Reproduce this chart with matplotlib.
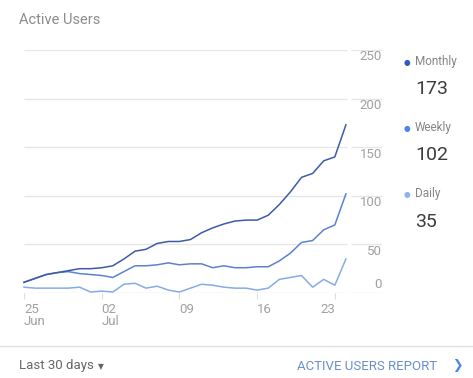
import matplotlib.pyplot as plt

plt.rcParams['font.family'] = ['Roboto', 'DejaVu Sans']

# 30 days, 25 Jun .. 24 Jul
days = list(range(30))
monthly = [11, 15, 19, 21, 23, 25, 25, 26, 28, 35, 43, 45, 51, 53, 53, 55, 62, 67,
           71, 74, 75, 75, 80, 91, 104, 119, 123, 136, 140, 173]
weekly = [11, 15, 19, 21, 22, 20, 19, 18, 16, 22, 28, 28, 29, 31, 29, 30, 30, 26,
          28, 26, 26, 27, 27, 33, 41, 52, 54, 65, 70, 102]
daily = [6, 5, 5, 5, 5, 6, 1, 2, 1, 9, 10, 5, 7, 3, 1, 5, 9, 8,
         6, 5, 5, 3, 5, 14, 16, 18, 6, 14, 8, 35]

tick_days = [0, 7, 14, 21, 28]
tick_labels = ['25\nJun', '02\nJul', '09', '16', '23']
y_ticks = [0, 50, 100, 150, 200, 250]

series_names = ['Monthly', 'Weekly', 'Daily']
series_totals = ['173', '102', '35']
line_colors = ['#3d5ba6', '#5b82d1', '#86abe6']
dot_colors = ['#2f5bbf', '#4a86e8', '#8ab4f0']

fig = plt.figure(figsize=(4.73, 3.78), dpi=100)
W, H = 473, 378
ax = fig.add_axes([24 / W, (H - 293) / H, (382 - 24) / W, 243 / H])
ax.set_xlim(0, 32.25)
ax.set_ylim(0, 250)

# grid lines, broken where the plot meets the value labels
for v in y_ticks:
    ax.hlines(v, 0, 29.1, color='#e6e6e6', lw=1, zorder=0)
    ax.hlines(v, 29.5, 32.25, color='#e6e6e6', lw=1, zorder=0)

for vals, c in zip([daily, weekly, monthly], line_colors[::-1]):
    ax.plot(days, vals, color=c, lw=1.1, clip_on=False, zorder=3)

for v in y_ticks:
    off = 9 if v == 0 else -7
    ax.annotate(str(v), xy=(32.25, v), xytext=(0, off), textcoords='offset pixels',
                ha='right', va='center', fontsize=9.5, color='#a0a0a0')

ax.set_yticks([])
ax.set_xticks(tick_days)
ax.set_xticklabels(tick_labels)
ax.tick_params(axis='x', length=4, color='#dddddd', labelsize=9.5,
               labelcolor='#a0a0a0', pad=3)
for i, lab in enumerate(ax.get_xticklabels()):
    lab.set_ha('right' if i == len(tick_labels) - 1 else 'left')
    lab.set_linespacing(0.95)
for s in ax.spines.values():
    s.set_visible(False)

fig.text(19 / W, 1 - 20 / H, 'Active Users', fontsize=10.5, color='#8c8c8c',
         va='center', ha='left')

# legend with totals
label_y = [62, 128, 194]
total_y = [89, 155, 222]
for name, tot, dc, ly, ty in zip(series_names, series_totals, dot_colors, label_y, total_y):
    fig.text(407 / W, 1 - ly / H, '\u25cf', fontsize=5.5, color=dc, ha='center', va='center',
             family=['DejaVu Sans'])
    fig.text(415 / W, 1 - ly / H, name, fontsize=8.5, color='#858585', ha='left', va='center')
    fig.text(415 / W, 1 - ty / H, tot, fontsize=14, color='#3c3c3c', ha='left', va='center')

# footer
fig.add_artist(plt.Line2D([0, 1], [1 - 346 / H, 1 - 346 / H], color='#e0e0e0', lw=1))
fig.text(19 / W, 1 - 366 / H, 'Last 30 days', fontsize=9.5, color='#666666',
         ha='left', va='center')
fig.text(101 / W, 1 - 367 / H, '\u25bc', fontsize=5.5, color='#666666',
         ha='center', va='center', family=['DejaVu Sans'])
fig.text(297 / W, 1 - 366 / H, 'ACTIVE USERS REPORT', fontsize=9.5, color='#6b8fc9',
         ha='left', va='center')
fig.text(457 / W, 1 - 366 / H, '\u276f', fontsize=9, color='#4a86e8',
         ha='center', va='center', family=['DejaVu Sans'])

fig.savefig('out.png', dpi=100)
